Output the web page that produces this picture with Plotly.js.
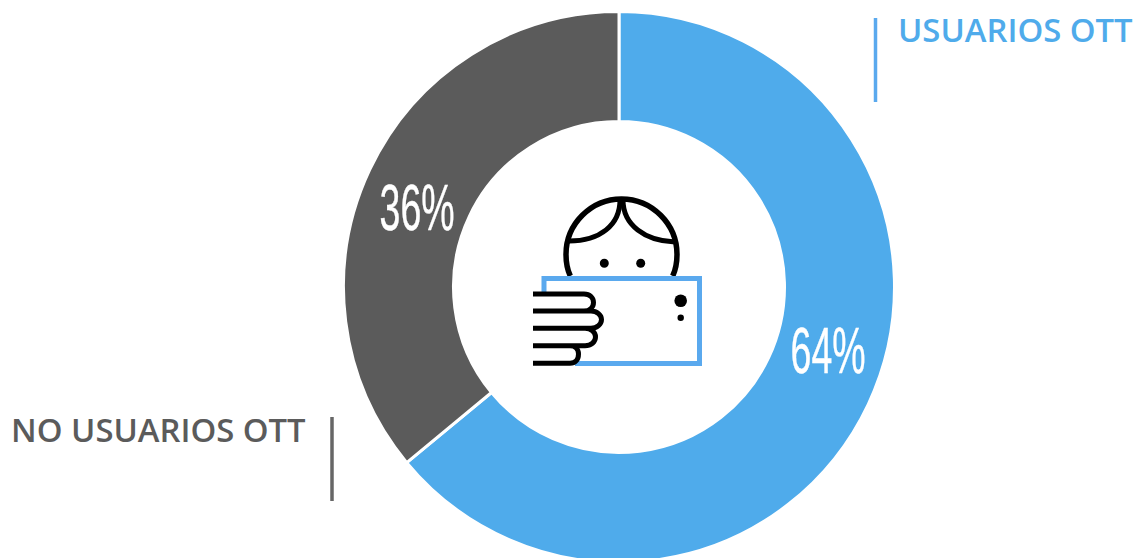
<!DOCTYPE html>
<html>
<head>
<meta charset="utf-8">
<script src="https://cdn.plot.ly/plotly-3.0.1.min.js"></script>
<style>
  html, body { margin: 0; padding: 0; background: #fff; overflow: hidden; }
  #chart { width: 1144px; height: 558px; overflow: hidden; }
</style>
</head>
<body>
<div id="chart"></div>
<script>
// Share of OTT users vs non-users
const categories = ['USUARIOS OTT', 'NO USUARIOS OTT'];
const shares = [64, 36];
const sliceColors = ['#4FABEB', '#5B5B5B'];

const W = 1144, H = 574;
const CX = 619, CY = 287, R = 275.5, R_IN = 165.5;
const BLUE = '#5AA9EE', INK = '#000000';

// Pixel to paper-fraction helpers
const px = x => x / W;
const py = y => 1 - y / H;

// Turns a list of [command, x1, y1, x2, y2, ...] into a paper-referenced path
function path(cmds) {
  return cmds.map(c => {
    const out = [c[0]];
    for (let i = 1; i < c.length; i += 2) {
      out.push(px(c[i]).toFixed(6) + ',' + py(c[i + 1]).toFixed(6));
    }
    return out.join(' ');
  }).join(' ');
}

const strokeShape = (cmds, color, width) => ({
  type: 'path', xref: 'paper', yref: 'paper', layer: 'above',
  path: path(cmds), line: {color: color, width: width}, fillcolor: 'rgba(0,0,0,0)'
});

const dot = (x, y, r) => ({
  type: 'circle', xref: 'paper', yref: 'paper', layer: 'above',
  x0: px(x - r), x1: px(x + r), y0: py(y + r), y1: py(y - r),
  fillcolor: INK, line: {width: 0}
});

const rule = (x, y0, y1, color) => strokeShape([['M', x, y0], ['L', x, y1]], color, 3.5);

// Person holding a phone, centred in the ring
const head = [
  ['M', 570.3, 276],
  ['C', 567.5, 270, 566, 262, 566, 254.5],
  ['C', 566, 224, 591, 199, 621.5, 199],
  ['C', 652, 199, 677, 224, 677, 254.5],
  ['C', 677, 262, 675.5, 270, 672.7, 276]
];
const bangLeft = [['M', 620, 200], ['C', 620, 225, 600, 241, 569, 241]];
const bangRight = [['M', 623, 200], ['C', 623, 225, 645, 241, 675, 242]];
const phone = [['M', 544, 293], ['L', 544, 278.5], ['L', 699.5, 278.5], ['L', 699.5, 363.5], ['L', 575, 363.5]];
const fingers = [
  ['M', 533, 294], ['L', 584, 294], ['C', 590, 294, 593.5, 298, 593.5, 302.5], ['C', 593.5, 307, 590, 311, 584, 311],
  ['L', 533, 311], ['M', 584, 311], ['L', 591, 311], ['C', 597, 311, 601.5, 315, 601.5, 319.5], ['C', 601.5, 324, 597, 328.3, 591, 328.3],
  ['L', 533, 328.3], ['M', 585, 328.3], ['C', 591, 328.3, 595.5, 332, 595.5, 337], ['C', 595.5, 342, 591, 345.7, 585, 345.7],
  ['L', 533, 345.7], ['M', 570, 345.7], ['C', 575, 345.7, 578.5, 349, 578.5, 354], ['C', 578.5, 360, 575, 363.3, 570, 363.3],
  ['L', 533, 363.3]
];

const shapes = [
  strokeShape(head, INK, 5.5),
  strokeShape(bangLeft, INK, 5),
  strokeShape(bangRight, INK, 5),
  dot(604.3, 263.3, 4.5),
  dot(640.7, 263.3, 4.5),
  strokeShape(phone, BLUE, 5),
  strokeShape(fingers, INK, 5),
  dot(680.7, 300.7, 6.3),
  dot(680.7, 317.7, 3.2),
  rule(875.5, 18, 102, BLUE),
  rule(332, 417, 501, '#666666')
];

const legendLabel = (text, x, y, anchor, color) => ({
  text: text, xref: 'paper', yref: 'paper', x: px(x), y: py(y),
  xanchor: anchor, yanchor: 'middle', showarrow: false,
  font: {family: '"Open Sans", sans-serif', size: 32.8, color: color, weight: 600},
  borderpad: 0
});
const valueLabel = (value, x, y) => ({
  text: value + '%', xref: 'paper', yref: 'paper', x: px(x), y: py(y),
  xanchor: 'center', yanchor: 'middle', showarrow: false,
  font: {family: '"Liberation Sans Narrow", "Liberation Sans", sans-serif', size: 64, color: '#ffffff'},
  borderpad: 0
});

const annotations = [
  legendLabel(categories[0], 1134, 29.5, 'right', '#4FABEB'),
  legendLabel(categories[1], 306.5, 429.5, 'right', '#5B5B5B'),
  valueLabel(shares[0], 828, 351),
  valueLabel(shares[1], 417, 208)
];

const trace = {
  type: 'pie',
  labels: categories,
  values: shares,
  hole: R_IN / R,
  sort: false,
  direction: 'clockwise',
  rotation: 0,
  textinfo: 'none',
  hoverinfo: 'label+percent',
  marker: {colors: sliceColors, line: {color: '#ffffff', width: 3}},
  domain: {x: [px(CX - R), px(CX + R)], y: [py(CY + R), py(CY - R)]}
};

const layout = {
  width: W, height: H,
  margin: {l: 0, r: 0, t: 0, b: 0},
  paper_bgcolor: '#ffffff',
  showlegend: false,
  shapes: shapes,
  annotations: annotations
};

Plotly.newPlot('chart', [trace], layout, {displayModeBar: false, staticPlot: true}).then(gd => {
  // Squeeze the percentage figures to their tall condensed proportions
  gd.querySelectorAll('.annotation-text').forEach(t => {
    if (t.textContent.endsWith('%')) {
      t.setAttribute('textLength', 75);
      t.setAttribute('lengthAdjust', 'spacingAndGlyphs');
      t.setAttribute('stroke', '#ffffff');
      t.setAttribute('stroke-width', '0.4');
    }
  });
});
</script>
</body>
</html>
